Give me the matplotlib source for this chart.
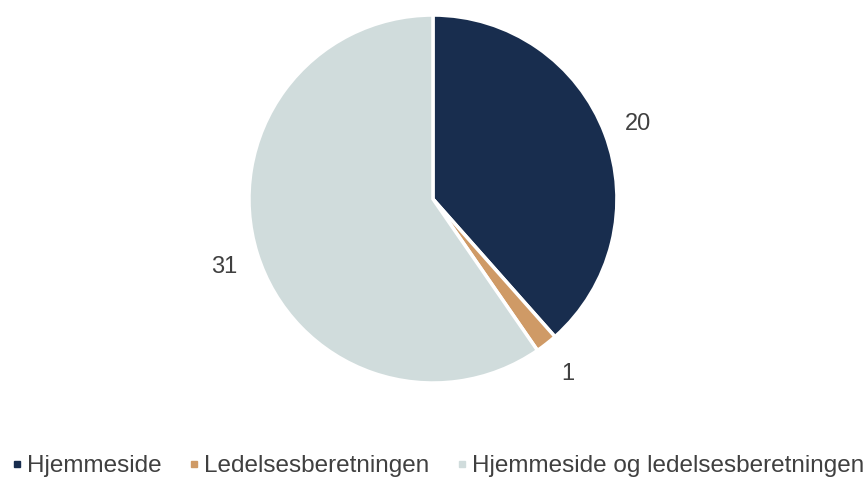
import matplotlib
matplotlib.use("Agg")
import matplotlib.pyplot as plt
from matplotlib.lines import Line2D

categories = ["Hjemmeside", "Ledelsesberetningen", "Hjemmeside og ledelsesberetningen"]
values = [20, 1, 31]
colors = ["#182d4e", "#cf9a66", "#d0dcdc"]

plt.rcParams["font.family"] = ["Liberation Sans", "DejaVu Sans"]

fig = plt.figure(figsize=(8.66, 4.78), dpi=100)
ax = fig.add_axes([0.2875, 0.1987, 0.4249, 0.7699])
wedges, texts = ax.pie(values, colors=colors, startangle=90, counterclock=False,
                       labels=[str(v) for v in values], labeldistance=1.19,
                       wedgeprops=dict(edgecolor="white", linewidth=2.5),
                       textprops=dict(fontsize=17, color="#404040"))
for t in texts:
    t.set_ha("center")
    t.set_va("center_baseline")
    t.set_clip_on(False)
ax.set_xlim(-1, 1)
ax.set_ylim(-1, 1)
ax.set_aspect("equal")

handles = [Line2D([], [], marker="s", linestyle="none", markersize=5,
                  markerfacecolor=c, markeredgecolor=c) for c in colors]
fig.legend(handles, categories, loc="center", bbox_to_anchor=(0.506, 1 - 466 / 478),
           ncol=3, frameon=False, fontsize=17.5, handlelength=0.4, handletextpad=0.2,
           columnspacing=1.15, labelcolor="#404040")

fig.savefig("out.png", dpi=100)
